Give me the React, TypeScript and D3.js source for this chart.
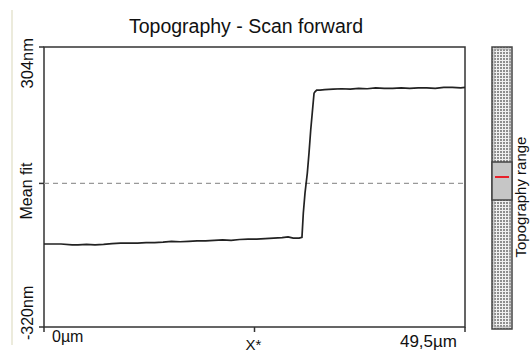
import React from "react";
import * as d3 from "d3";

// Profile data: position (µm) and height (nm)
const xPos: number[] = [
  0, 1, 2, 3.3, 4, 5, 6, 7, 8, 9, 10, 11, 12, 13, 14, 15, 16, 17, 18, 19, 20,
  21, 22, 23, 24, 25, 26, 27, 28, 28.7, 29.3, 30, 30.33,
  30.49, 30.69, 30.96, 31.16, 31.36, 31.55, 31.75, 31.86, 32.06, 32.45,
  33, 34, 35, 36, 37, 38, 39, 40, 41, 42, 43, 44, 45, 46, 47, 48, 49, 49.5,
];
const heights: number[] = [
  -135, -135, -135, -137, -137, -136, -137, -136, -134, -133, -133, -133, -132,
  -132, -131, -129, -130, -129, -128, -128, -127, -126, -127, -125, -124, -124,
  -123, -122, -121, -119, -122, -122, -120,
  -66, -21, 23, 68, 119, 159, 201, 204, 208, 208,
  209, 210, 211, 210, 212, 211, 213, 212, 212, 213, 212, 213, 213, 212, 214,
  214, 213, 214,
];
const yDomain: number[] = [-320, 304];
const xDomain: number[] = [0, 49.5];
const yTickLabels: string[] = ["304nm", "Mean fit", "-320nm"];
const xTickLabels: string[] = ["0µm", "X*", "49,5µm"];
const meanFit = 0;
const title = "Topography - Scan forward";
const rangeLabel = "Topography range";

const W = 530;
const H = 356;
const L = 44, R = 465, T = 47, B = 327;
const FONT = "'Liberation Sans', Arial, sans-serif";

export default function App() {
  const x = d3.scaleLinear().domain(xDomain).range([L, R]);
  const y = d3.scaleLinear().domain(yDomain).range([B, T]);
  const pts = xPos.map((v, i) => [v, heights[i]] as [number, number]);
  const line = d3
    .line<[number, number]>()
    .x((d) => x(d[0]))
    .y((d) => y(d[1]));
  const midX = x((xDomain[0] + xDomain[1]) / 2);
  const cbL = 492, cbR = 512, cbT = 47, cbB = 329;
  const boxT = 162, boxB = 200;

  return (
    <svg
      width={W}
      height={H}
      style={{ position: "absolute", left: 0, top: 0, background: "#fff" }}
      fontFamily={FONT}
    >
      <defs>
        <pattern id="dots" width={3} height={3} patternUnits="userSpaceOnUse" x={cbL + 2} y={cbT + 2}>
          <rect width={3} height={3} fill="#f0f0f0" />
          <rect width={2} height={2} fill="#8e8e8e" />
        </pattern>
      </defs>
      <line x1={12} x2={12} y1={10} y2={345} stroke="#ecebdc" strokeWidth={2} />

      {/* title */}
      <text x={246} y={33} textAnchor="middle" fontSize={19.5} fill="#111">
        {title}
      </text>

      {/* frame */}
      <rect x={L} y={T} width={R - L} height={B - T} fill="none" stroke="#333" strokeWidth={1.5} />

      {/* mean fit dashed line */}
      <line
        x1={L}
        x2={R}
        y1={y(meanFit)}
        y2={y(meanFit)}
        stroke="#999"
        strokeWidth={1.2}
        strokeDasharray="5,4"
      />

      {/* left ticks */}
      {[yDomain[1], meanFit, yDomain[0]].map((v, i) => (
        <line key={i} x1={39} x2={L} y1={y(v)} y2={y(v)} stroke="#333" strokeWidth={1.5} />
      ))}
      {/* bottom ticks */}
      {[xDomain[0], (xDomain[0] + xDomain[1]) / 2, xDomain[1]].map((v, i) => (
        <line key={i} x1={x(v)} x2={x(v)} y1={B} y2={B + 5} stroke="#333" strokeWidth={1.5} />
      ))}

      {/* profile */}
      <path d={line(pts) || ""} fill="none" stroke="#222" strokeWidth={1.7} />

      {/* y labels */}
      <text transform={`translate(33,38) rotate(-90)`} textAnchor="end" fontSize={16.5} fill="#111">
        {yTickLabels[0]}
      </text>
      <text transform={`translate(32,191) rotate(-90)`} textAnchor="middle" fontSize={16} fill="#111">
        {yTickLabels[1]}
      </text>
      <text transform={`translate(33,340) rotate(-90)`} textAnchor="start" fontSize={16} fill="#111">
        {yTickLabels[2]}
      </text>

      {/* x labels */}
      <text x={52} y={342} textAnchor="start" fontSize={16} fill="#111">
        {xTickLabels[0]}
      </text>
      <text x={midX - 1} y={350} textAnchor="middle" fontSize={15} fill="#111">
        {xTickLabels[1]}
      </text>
      <text x={457} y={347} textAnchor="end" fontSize={17} fill="#111">
        {xTickLabels[2]}
      </text>

      {/* colour bar */}
      <rect x={cbL} y={cbT} width={cbR - cbL} height={cbB - cbT} fill="url(#dots)" stroke="#444" strokeWidth={1.5} />
      <rect x={cbL + 2} y={cbT + 2} width={cbR - cbL - 4} height={cbB - cbT - 4} fill="none" stroke="#aaa" strokeWidth={1} />
      <rect x={cbL} y={boxT} width={cbR - cbL} height={boxB - boxT} fill="#c6c6c6" stroke="#444" strokeWidth={1.5} />
      <line x1={cbL + 3} x2={cbR - 3} y1={177} y2={177} stroke="#e8202a" strokeWidth={2} />

      <text transform={`translate(526,197) rotate(-90)`} textAnchor="middle" fontSize={15} fill="#111">
        {rangeLabel}
      </text>
    </svg>
  );
}
